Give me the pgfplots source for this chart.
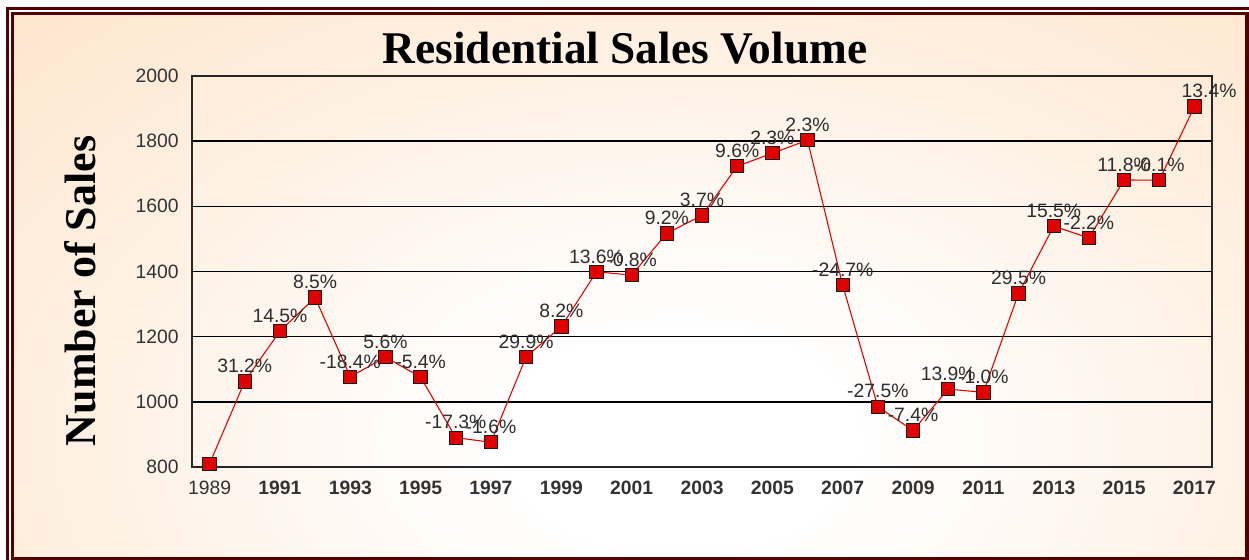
\documentclass[border=0pt]{standalone}
\usepackage{pgfplots}
\pgfplotsset{compat=1.18}
\usepackage{fontspec}
\setmainfont{Liberation Sans}
\newfontfamily\serif{Liberation Serif}

\definecolor{framecol}{HTML}{520000}
\definecolor{peach}{HTML}{FDE0C2}
\definecolor{linered}{HTML}{E00000}
\definecolor{labelgray}{HTML}{2E2E2E}
\pgfdeclareradialshading{bgshade}{\pgfpoint{0bp}{0bp}}{color(0bp)=(white); color(6bp)=(white); color(40bp)=(peach); color(50bp)=(peach)}

\begin{document}
\begin{tikzpicture}
% page = 1249 x 560 px, 1px = 0.75pt
\begin{scope}[x=0.75pt,y=0.75pt]
  \path[use as bounding box] (0,0) rectangle (1249,560);
  \clip (0,0) rectangle (1249,560);
  \fill[white] (0,0) rectangle (1249,560);
  \begin{scope}
    \clip (14,3) rectangle (1245,545);
    \shade[shading=bgshade] (-20,-330) rectangle (1380,570);
  \end{scope}
  % double frame
  \draw[framecol, line width=2.8pt] (7.5,-20) rectangle (1270,551.5);
  \draw[framecol, line width=2.4pt] (12.5,1.5) rectangle (1247,546.5);
  \node[font=\serif\bfseries\fontsize{34}{40}\selectfont] at (625,512) {Residential Sales Volume};
  \node[rotate=90, font=\serif\bfseries\fontsize{33}{40}\selectfont] at (80,269) {Number of Sales};
\end{scope}

\begin{axis}[
    at={(144pt,69.75pt)}, anchor=south west,
    scale only axis, width=765pt, height=293.25pt,
    xmin=1988.5, xmax=2017.5,
    ymin=800, ymax=2000,
    ytick={800,1000,...,2000},
    xtick={1989,1991,...,2017},
    xticklabels={1989,\textbf{1991},\textbf{1993},\textbf{1995},\textbf{1997},\textbf{1999},\textbf{2001},\textbf{2003},\textbf{2005},\textbf{2007},\textbf{2009},\textbf{2011},\textbf{2013},\textbf{2015},\textbf{2017}},
    ymajorgrids,
    major grid style={black, line width=1.2pt},
    axis line style={black!85, line width=1.2pt},
    major tick length=0pt,
    clip=false,
    tick label style={font=\fontsize{14.5}{16}\selectfont, text=black!80},
    xticklabel style={yshift=-7pt},
    yticklabel style={xshift=-6.5pt},
    /pgf/number format/assume math mode=true,
    /pgf/number format/1000 sep={},
  ]
  % percentage labels (drawn first, so markers sit on top)
  \addplot[draw=none, mark=none, point meta=explicit symbolic,
    nodes near coords={\pgfplotspointmeta},
    every node near coord/.style={anchor=south, inner sep=0pt, yshift=6.2pt,
      font=\fontsize{14.5}{16}\selectfont, text=labelgray}]
  coordinates {
    (1990,1063) [31.2\%]
    (1991,1217) [14.5\%]
    (1992,1320) [8.5\%]
    (1993,1077) [-18.4\%]
    (1994,1137) [5.6\%]
    (1995,1076) [-5.4\%]
    (1996,890)  [-17.3\%]
    (1997,876)  [-1.6\%]
    (1998,1138) [29.9\%]
    (1999,1231) [8.2\%]
    (2000,1399) [13.6\%]
    (2001,1389) [-0.8\%]
    (2002,1517) [9.2\%]
    (2003,1572) [3.7\%]
    (2004,1723) [9.6\%]
    (2005,1763) [2.3\%]
    (2006,1803) [2.3\%]
    (2007,1358) [-24.7\%]
    (2008,985)  [-27.5\%]
    (2009,912)  [-7.4\%]
    (2010,1039) [13.9\%]
    (2011,1029) [-1.0\%]
    (2012,1333) [29.5\%]
    (2013,1539) [15.5\%]
    (2014,1503) [-2.2\%]
    (2015,1681) [11.8\%]
    (2016,1680) [-0.1\%]
    (2017,1906) [\hspace*{22pt}13.4\%]
  };
  % sales volume
  \addplot[linered, line width=0.8pt, mark=square*,
    mark size=5pt, mark options={fill=linered, draw=black!90, line width=0.7pt}]
  coordinates {
    (1989,810) (1990,1063) (1991,1217) (1992,1320) (1993,1077)
    (1994,1137) (1995,1076) (1996,890) (1997,876) (1998,1138)
    (1999,1231) (2000,1399) (2001,1389) (2002,1517) (2003,1572)
    (2004,1723) (2005,1763) (2006,1803) (2007,1358) (2008,985)
    (2009,912) (2010,1039) (2011,1029) (2012,1333) (2013,1539)
    (2014,1503) (2015,1681) (2016,1680) (2017,1906)
  };
\end{axis}
\end{tikzpicture}
\end{document}
